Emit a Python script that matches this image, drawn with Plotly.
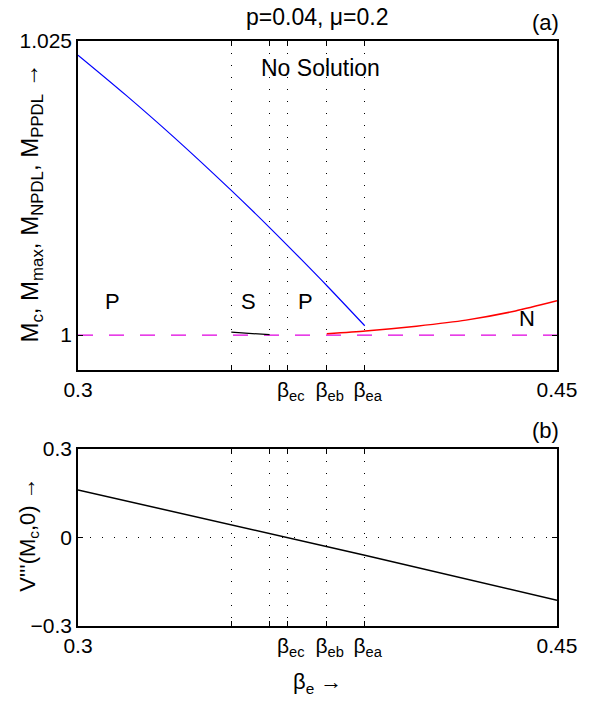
import plotly.graph_objects as go

# ---- data ----
beta_ticks = [0.3, 0.348, 0.36, 0.3657, 0.3779, 0.3898, 0.45]
NB = "\u00a0"
beta_tick_text = ["0.3", "", "",
                  NB + "β<sub>ec</sub>",
                  NB + "β<sub>eb</sub>",
                  NB + "β<sub>ea</sub>",
                  "0.45"]

m_ticks = [1.0, 1.025]
m_tick_text = ["1", "1.025"]
v_ticks = [-0.3, 0.0, 0.3]
v_tick_text = ["−0.3", "0", "0.3"]

blue_x = [0.3, 0.315, 0.33, 0.348, 0.36, 0.37, 0.3781, 0.3898]
blue_y = [1.0238, 1.0204, 1.01683, 1.0123, 1.00914, 1.00641, 1.00415, 1.00079]

red_x = [0.3779, 0.39, 0.406, 0.4215, 0.437, 0.45]
red_y = [1.00011, 1.00034, 1.00076, 1.00127, 1.00205, 1.00291]

black_x = [0.348, 0.36]
black_y = [1.00025, 1.00003]

ref_x = [0.3, 0.45]
ref_y = [1.0, 1.0]

v_x = [0.3, 0.348, 0.3657, 0.3898, 0.45]
v_y = [0.161, 0.043, 0.0, -0.060, -0.213]

FONT = "Liberation Sans, Arial, Helvetica, sans-serif"
FS = 21

fig = go.Figure()
fig.add_trace(go.Scatter(x=ref_x, y=ref_y, mode="lines", xaxis="x", yaxis="y",
                         line=dict(color="#e000e0", width=1.3, dash="15px,16px")))
fig.add_trace(go.Scatter(x=blue_x, y=blue_y, mode="lines", xaxis="x", yaxis="y",
                         line=dict(color="#0000ff", width=1.2, shape="spline", smoothing=1.0)))
fig.add_trace(go.Scatter(x=red_x, y=red_y, mode="lines", xaxis="x", yaxis="y",
                         line=dict(color="#ff0000", width=1.5, shape="spline", smoothing=0.6)))
fig.add_trace(go.Scatter(x=black_x, y=black_y, mode="lines", xaxis="x", yaxis="y",
                         line=dict(color="black", width=1.2)))
fig.add_trace(go.Scatter(x=v_x, y=v_y, mode="lines", xaxis="x2", yaxis="y2",
                         line=dict(color="black", width=1.5)))

axis_common = dict(showline=True, linecolor="black", linewidth=1.5, mirror="ticks",
                   ticks="inside", ticklen=5, tickwidth=1, tickcolor="black",
                   zeroline=False, tickangle=0,
                   tickfont=dict(family=FONT, size=FS, color="black"))
xgrid = dict(showgrid=True, gridcolor="black", gridwidth=1, griddash="1px,11px")

fig.update_layout(
    width=589, height=705,
    margin=dict(l=78, r=27, t=41, b=79),
    paper_bgcolor="white", plot_bgcolor="white",
    showlegend=False,
    font=dict(family=FONT, size=FS, color="black"),
    xaxis=dict(domain=[0, 1], range=[0.3, 0.45], anchor="y",
               tickmode="array", tickvals=beta_ticks, ticktext=beta_tick_text,
               **xgrid, **axis_common),
    yaxis=dict(domain=[0.4376, 1], range=[0.99703, 1.025], anchor="x",
               tickmode="array", tickvals=m_ticks, ticktext=m_tick_text,
               showgrid=False, **axis_common),
    xaxis2=dict(domain=[0, 1], range=[0.3, 0.45], anchor="y2",
                tickmode="array", tickvals=beta_ticks, ticktext=beta_tick_text,
                **xgrid, **axis_common),
    yaxis2=dict(domain=[0, 0.3026], range=[-0.3, 0.3], anchor="x2",
                tickmode="array", tickvals=v_ticks, ticktext=v_tick_text,
                **xgrid, **axis_common),
)

def ann(text, x, y, xref="paper", yref="paper", angle=0, size=FS):
    fig.add_annotation(text=text, x=x, y=y, xref=xref, yref=yref, showarrow=False,
                       xanchor="center", yanchor="middle", textangle=angle,
                       font=dict(family=FONT, size=size, color="black"))

ann("p=0.04, μ=0.2", 0.498, 1.041, size=23)
ann("(a)", 0.977, 1.031, size=22)
ann("(b)", 0.977, 0.335, size=22)
ann("No Solution", 0.3759, 1.02268, "x", "y", size=23)
ann("P", 0.3108, 1.00289, "x", "y", size=22)
ann("S", 0.3533, 1.00289, "x", "y", size=22)
ann("P", 0.3713, 1.00289, "x", "y", size=22)
ann("N", 0.4407, 1.00144, "x", "y", size=22)
ann("M<sub>c</sub>, M<sub>max</sub>, M<sub>NPDL</sub>, M<sub>PPDL</sub> →",
    -0.099, 0.723, angle=-90, size=24)
ann("V'''(M<sub>c</sub>,0) →", -0.103, 0.1556, angle=-90, size=22)
ann("β<sub>e</sub> →", 0.5, -0.097, size=22)

fig.write_html("out.html", config={"displayModeBar": False},
               post_script="document.body.style.margin='0px';document.body.style.overflow='hidden';")
